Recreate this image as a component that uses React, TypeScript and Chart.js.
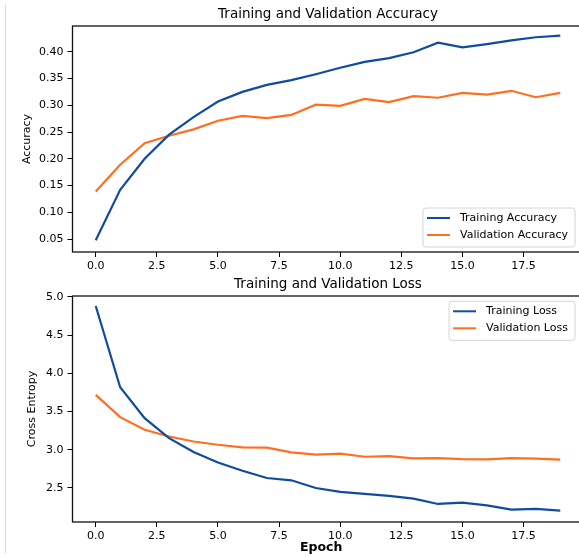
import React, { useEffect, useRef } from 'react';
import { Chart, registerables } from 'chart.js';

Chart.register(...registerables);

// ---------------- data ----------------
const epochs = [0, 1, 2, 3, 4, 5, 6, 7, 8, 9, 10, 11, 12, 13, 14, 15, 16, 17, 18, 19];
const trainAcc = [0.048, 0.142, 0.200, 0.245, 0.278, 0.307, 0.325, 0.338, 0.347, 0.358, 0.370, 0.381, 0.388, 0.399, 0.417, 0.408, 0.414, 0.421, 0.427, 0.430];
const valAcc = [0.139, 0.189, 0.229, 0.243, 0.255, 0.271, 0.280, 0.276, 0.282, 0.301, 0.299, 0.312, 0.306, 0.317, 0.314, 0.323, 0.320, 0.327, 0.315, 0.323];
const trainLoss = [4.879, 3.817, 3.413, 3.152, 2.970, 2.834, 2.726, 2.630, 2.600, 2.500, 2.448, 2.422, 2.396, 2.360, 2.291, 2.308, 2.273, 2.217, 2.226, 2.204];
const valLoss = [3.717, 3.426, 3.261, 3.173, 3.108, 3.065, 3.030, 3.028, 2.965, 2.935, 2.948, 2.908, 2.917, 2.887, 2.891, 2.878, 2.874, 2.891, 2.883, 2.870];

const xTickValues = [0, 2.5, 5, 7.5, 10, 12.5, 15, 17.5];
const xTickLabels = ['0.0', '2.5', '5.0', '7.5', '10.0', '12.5', '15.0', '17.5'];
const accTickValues = [0.05, 0.1, 0.15, 0.2, 0.25, 0.3, 0.35, 0.4];
const accTickLabels = ['0.05', '0.10', '0.15', '0.20', '0.25', '0.30', '0.35', '0.40'];
const lossTickValues = [2.5, 3.0, 3.5, 4.0, 4.5, 5.0];
const lossTickLabels = ['2.5', '3.0', '3.5', '4.0', '4.5', '5.0'];

const xRange = [-0.95, 19.95];
const accRange = [0.026, 0.448];
const lossRange = [2.055, 5.01];

// ---------------- style ----------------
const BLUE = '#0f4c9f';
const ORANGE = '#ff6f1f';
const FONT = "'DejaVu Sans', 'Liberation Sans', sans-serif";

const framePlugin = {
  id: 'frame',
  afterDatasetsDraw(chart: any) {
    const { ctx, chartArea } = chart;
    ctx.save();
    ctx.strokeStyle = '#111';
    ctx.lineWidth = 1.3;
    ctx.strokeRect(chartArea.left, chartArea.top, chartArea.right - chartArea.left, chartArea.bottom - chartArea.top);
    ctx.restore();
  },
};

const legendPlugin = {
  id: 'insideLegend',
  afterDraw(chart: any, _args: any, opts: any) {
    const { ctx, chartArea } = chart;
    ctx.save();
    ctx.font = `11px ${FONT}`;
    const items = chart.data.datasets.map((d: any) => ({ text: d.label, color: d.borderColor }));
    const maxW = Math.max(...items.map((it: any) => ctx.measureText(it.text).width));
    const padL = 4, lineLen = 23, gap = 10, padR = 7;
    const w = padL + lineLen + gap + maxW + padR;
    const h = 39;
    const x0 = chartArea.right - 8.5 - w;
    const y0 = opts.corner === 'lower' ? chartArea.bottom - 5 - h : chartArea.top + 5.3;
    const r = 3;
    ctx.beginPath();
    ctx.moveTo(x0 + r, y0);
    ctx.lineTo(x0 + w - r, y0);
    ctx.quadraticCurveTo(x0 + w, y0, x0 + w, y0 + r);
    ctx.lineTo(x0 + w, y0 + h - r);
    ctx.quadraticCurveTo(x0 + w, y0 + h, x0 + w - r, y0 + h);
    ctx.lineTo(x0 + r, y0 + h);
    ctx.quadraticCurveTo(x0, y0 + h, x0, y0 + h - r);
    ctx.lineTo(x0, y0 + r);
    ctx.quadraticCurveTo(x0, y0, x0 + r, y0);
    ctx.closePath();
    ctx.fillStyle = 'rgba(255,255,255,0.85)';
    ctx.fill();
    ctx.strokeStyle = '#d4d4d4';
    ctx.lineWidth = 1;
    ctx.stroke();
    items.forEach((it: any, i: number) => {
      const yy = y0 + 10 + i * 17;
      ctx.strokeStyle = it.color;
      ctx.lineWidth = 2;
      ctx.beginPath();
      ctx.moveTo(x0 + padL, yy);
      ctx.lineTo(x0 + padL + lineLen, yy);
      ctx.stroke();
      ctx.fillStyle = '#000';
      ctx.textAlign = 'left';
      ctx.textBaseline = 'middle';
      ctx.fillText(it.text, x0 + padL + lineLen + gap, yy);
    });
    ctx.restore();
  },
};

function makeConfig(opts: {
  title: string;
  yTitle: string;
  yTitlePad: number;
  labels: string[];
  series: number[][];
  yRange: number[];
  yTickValues: number[];
  yTickLabels: string[];
  legendCorner: string;
  bottomPad: number;
}) {
  const colors = [BLUE, ORANGE];
  return {
    type: 'line' as const,
    data: {
      datasets: opts.series.map((s, i) => ({
        label: opts.labels[i],
        data: epochs.map((e, j) => ({ x: e, y: s[j] })),
        borderColor: colors[i],
        backgroundColor: colors[i],
        borderWidth: 2.2,
        pointRadius: 0,
        tension: 0,
        fill: false,
      })),
    },
    options: {
      animation: false,
      responsive: false,
      maintainAspectRatio: false,
      layout: { padding: { left: 0, right: 6.5, top: 0, bottom: opts.bottomPad } },
      plugins: {
        legend: { display: false },
        tooltip: { enabled: false },
        title: {
          display: true,
          text: opts.title,
          fullSize: false,
          color: '#000',
          font: { family: FONT, size: 13.5, weight: 'normal' },
          padding: { top: 6.2, bottom: 3.6 },
        },
        insideLegend: { corner: opts.legendCorner },
      },
      scales: {
        x: {
          type: 'linear',
          min: xRange[0],
          max: xRange[1],
          afterBuildTicks: (scale: any) => {
            scale.ticks = xTickValues.map((v) => ({ value: v }));
          },
          afterFit: (scale: any) => {
            scale.height = 18;
          },
          ticks: {
            autoSkip: false,
            maxRotation: 0,
            color: '#000',
            font: { family: FONT, size: 11 },
            padding: 2.5,
            callback: (v: number) => {
              const k = xTickValues.indexOf(v);
              return k >= 0 ? xTickLabels[k] : '';
            },
          },
          grid: { display: true, drawOnChartArea: false, drawTicks: true, tickLength: 5, color: '#000' },
          border: { display: false },
        },
        y: {
          type: 'linear',
          min: opts.yRange[0],
          max: opts.yRange[1],
          afterBuildTicks: (scale: any) => {
            scale.ticks = opts.yTickValues.map((v) => ({ value: v }));
          },
          afterFit: (scale: any) => {
            scale.width = 72.5;
          },
          ticks: {
            autoSkip: false,
            color: '#000',
            font: { family: FONT, size: 11 },
            padding: 4,
            callback: (v: number) => {
              const k = opts.yTickValues.findIndex((t) => Math.abs(t - v) < 1e-9);
              return k >= 0 ? opts.yTickLabels[k] : '';
            },
          },
          title: {
            display: true,
            text: opts.yTitle,
            color: '#000',
            font: { family: FONT, size: 11 },
            padding: { top: opts.yTitlePad, bottom: 0 },
          },
          grid: { display: true, drawOnChartArea: false, drawTicks: true, tickLength: 5, color: '#000' },
          border: { display: false },
        },
      },
    },
    plugins: [framePlugin, legendPlugin],
  };
}

export default function App() {
  const topRef = useRef<HTMLCanvasElement | null>(null);
  const botRef = useRef<HTMLCanvasElement | null>(null);

  useEffect(() => {
    const c1 = new Chart(
      topRef.current as HTMLCanvasElement,
      makeConfig({
        title: 'Training and Validation Accuracy',
        yTitle: 'Accuracy',
        yTitlePad: 20.1,
        labels: ['Training Accuracy', 'Validation Accuracy'],
        series: [trainAcc, valAcc],
        yRange: accRange,
        yTickValues: accTickValues,
        yTickLabels: accTickLabels,
        legendCorner: 'lower',
        bottomPad: 0,
      }) as any
    );
    const c2 = new Chart(
      botRef.current as HTMLCanvasElement,
      makeConfig({
        title: 'Training and Validation Loss',
        yTitle: 'Cross Entropy',
        yTitlePad: 25.4,
        labels: ['Training Loss', 'Validation Loss'],
        series: [trainLoss, valLoss],
        yRange: lossRange,
        yTickValues: lossTickValues,
        yTickLabels: lossTickLabels,
        legendCorner: 'upper',
        bottomPad: 17,
      }) as any
    );
    return () => {
      c1.destroy();
      c2.destroy();
    };
  }, []);

  return (
    <div
      style={{
        position: 'fixed',
        left: 0,
        top: 0,
        width: 579,
        height: 557,
        overflow: 'hidden',
        background: '#fff',
      }}
    >
      <div style={{ position: 'absolute', left: 5, top: 5, width: 1, height: 548, background: '#d9d9d9' }} />
      <canvas ref={topRef} width={590} height={270} style={{ position: 'absolute', left: 0, top: 0, width: 590, height: 270 }} />
      <canvas ref={botRef} width={590} height={287} style={{ position: 'absolute', left: 0, top: 270, width: 590, height: 287 }} />
      <div
        style={{
          position: 'absolute',
          left: 300,
          top: 541,
          fontFamily: FONT,
          fontWeight: 'bold',
          fontSize: 12.5,
          lineHeight: '12.5px',
          color: '#000',
          whiteSpace: 'nowrap',
        }}
      >
        Epoch
      </div>
    </div>
  );
}
